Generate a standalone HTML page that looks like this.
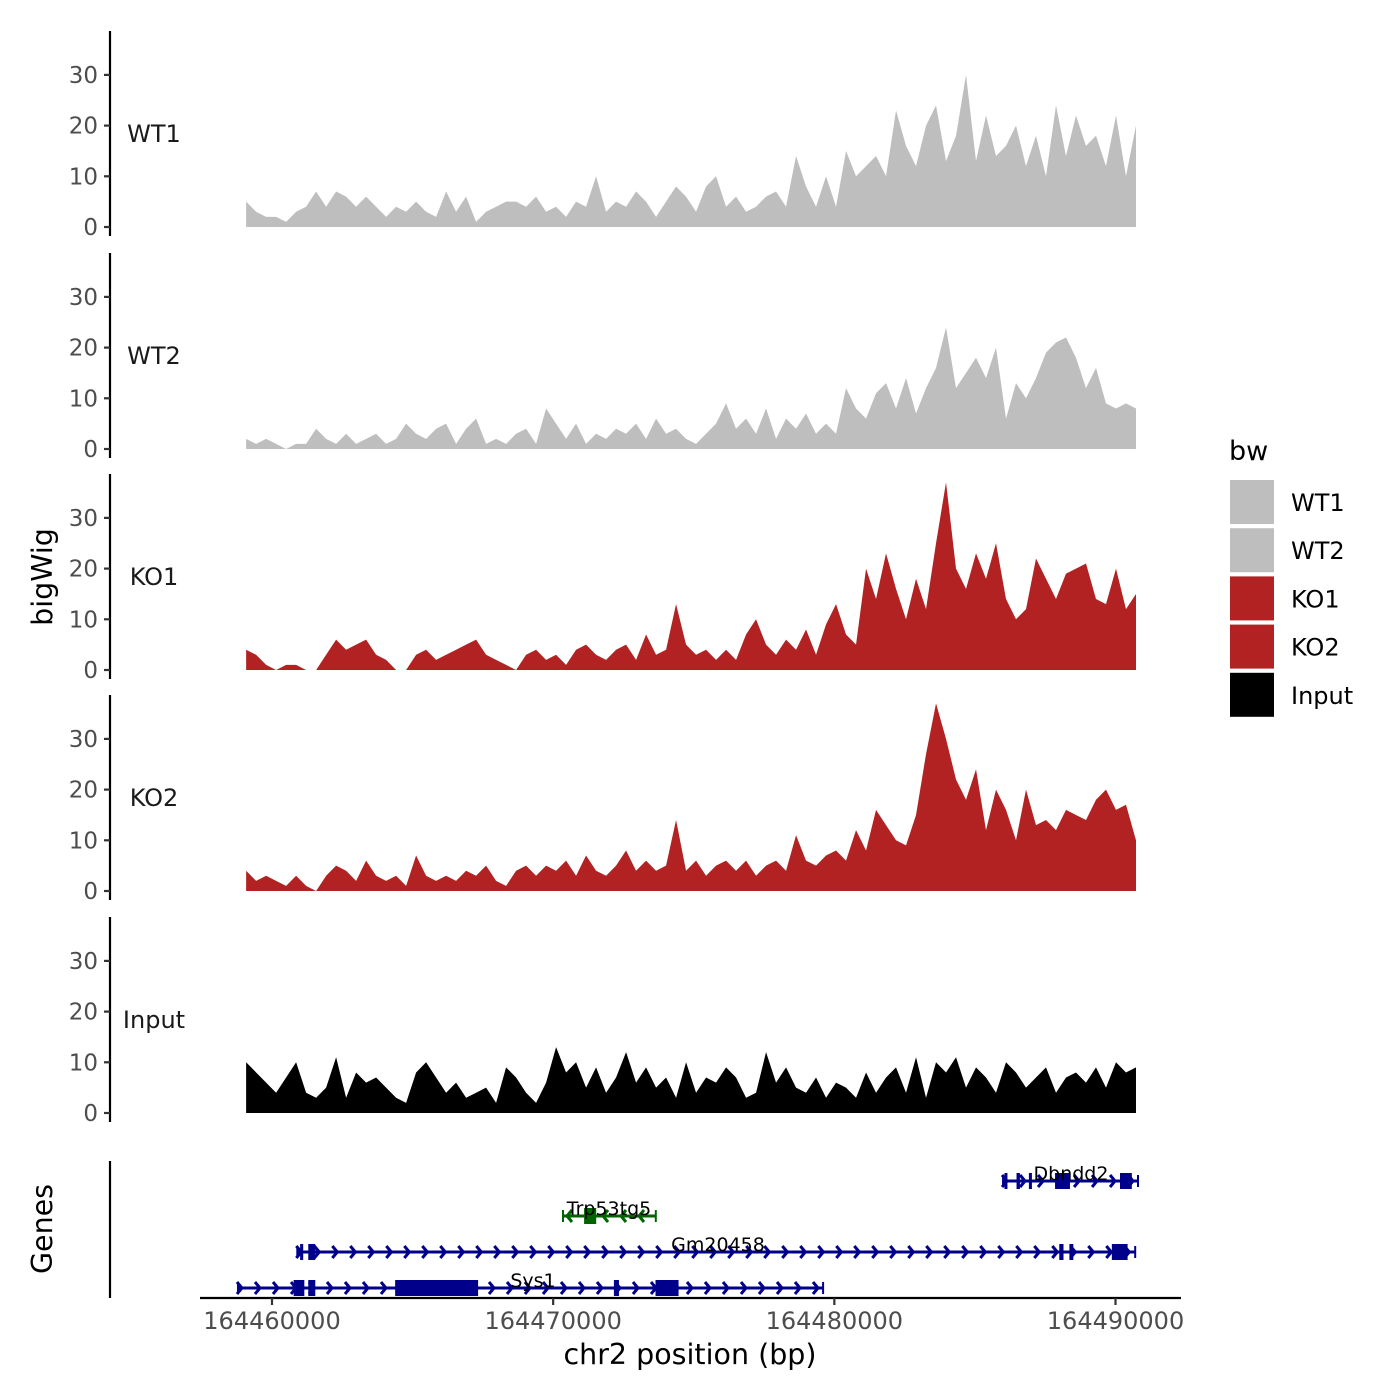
<!DOCTYPE html>
<html><head><meta charset="utf-8"><style>
body{margin:0;background:#fff}
svg{display:block;font-family:"DejaVu Sans","Liberation Sans",sans-serif}
</style></head><body>
<svg id="chart" width="1400" height="1400" viewBox="0 0 1400 1400" xmlns="http://www.w3.org/2000/svg">
<g id="tracks"></g>
<g id="genes"></g>
<g id="xaxis"></g>
<text x="690" y="1364" font-size="28.5" text-anchor="middle" fill="#000">chr2 position (bp)</text>
<text x="0" y="0" font-size="28.5" text-anchor="middle" transform="translate(52,577) rotate(-90)">bigWig</text>
<text x="0" y="0" font-size="28.5" text-anchor="middle" transform="translate(52,1229) rotate(-90)">Genes</text>
<g id="legend">
<text x="1229" y="460" font-size="27">bw</text>
</g>
</svg>
<script>
const trackNames = ["WT1","WT2","KO1","KO2","Input"];
const trackColors = ["#bebebe","#bebebe","#b22222","#b22222","#000000"];
const yTicks = [0,10,20,30];
const xTicks = [164460000,164470000,164480000,164490000];
const dataStart = 164459080, dataStep = 355.6;
const wt1 = [5,3,2,2,1,3,4,7,4,7,6,4,6,4,2,4,3,5,3,2,7,3,6,1,3,4,5,5,4,6,3,4,2,5,4,10,3,5,4,7,5,2,5,8,6,3,8,10,4,6,3,4,6,7,4,14,8,4,10,4,15,10,12,14,10,23,16,12,20,24,13,18,30,13,22,14,16,20,12,18,10,24,14,22,16,18,12,22,10,20];
const wt2 = [2,1,2,1,0,1,1,4,2,1,3,1,2,3,1,2,5,3,2,4,5,1,4,6,1,2,1,3,4,1,8,5,2,5,1,3,2,4,3,5,2,6,3,4,2,1,3,5,9,4,6,3,8,2,6,4,7,3,5,3,12,8,6,11,13,8,14,7,12,16,24,12,15,18,14,20,6,13,10,14,19,21,22,18,12,16,9,8,9,8];
const ko1 = [4,3,1,0,1,1,0,0,3,6,4,5,6,3,2,0,0,3,4,2,3,4,5,6,3,2,1,0,3,4,2,3,1,4,5,3,2,4,5,2,7,3,4,13,5,3,4,2,4,2,7,10,5,3,6,4,8,3,9,13,7,5,20,14,23,16,10,18,12,25,37,20,16,23,18,25,14,10,12,22,18,14,19,20,21,14,13,20,12,15];
const ko2 = [4,2,3,2,1,3,1,0,3,5,4,2,6,3,2,3,1,7,3,2,3,2,4,3,5,2,1,4,5,3,5,4,6,3,7,4,3,5,8,4,6,4,5,14,4,6,3,5,6,4,6,3,5,6,4,11,6,5,7,8,6,12,8,16,13,10,9,15,27,37,30,22,18,24,12,20,16,10,20,13,14,12,16,15,14,18,20,16,17,10];
const input = [10,8,6,4,7,10,4,3,5,11,3,8,6,7,5,3,2,8,10,7,4,6,3,4,5,2,9,7,4,2,6,13,8,10,5,9,4,7,12,6,9,5,7,3,10,4,7,6,9,7,3,4,12,6,9,5,4,7,3,6,5,3,8,4,7,9,4,11,3,10,8,11,5,9,7,4,10,8,5,7,9,4,7,8,6,9,5,10,8,9];
const seriesList = [wt1,wt2,ko1,ko2,input];
const geneNames = ["Sys1","Gm20458","Trp53tg5","Dbndd2"];
const geneStarts = [164458790,164460900,164470350,164486000];
const geneEnds = [164479600,164490700,164473650,164490800];
const geneStrand = [1,1,-1,1];
const geneExons = [
 [[164460770,164461150],[164461290,164461540],[164464380,164467330],[164472160,164472340],[164473640,164474460]],
 [[164461000,164461110],[164461290,164461540],[164488000,164488150],[164488360,164488500],[164489870,164490430]],
 [[164471100,164471530]],
 [[164486050,164486150],[164486480,164486600],[164486920,164487020],[164487850,164488380],[164490160,164490580]]
];
const NS="http://www.w3.org/2000/svg";
function mk(t,a,p){const e=document.createElementNS(NS,t);for(const k in a)e.setAttribute(k,a[k]);p.appendChild(e);return e;}
const xs = bp => 272 + (bp-164460000)*0.028117;
const zeros=[227,449,670,891,1113];
const ys=(v,i)=>zeros[i]-v*5.07;
const tracks=document.getElementById('tracks');
seriesList.forEach((s,i)=>{
  const g=mk('g',{},tracks);
  
  
  const ax=mk('line',{x1:110,x2:110,y1:zeros[i]-196,y2:zeros[i]+9,stroke:'#000','stroke-width':2.2},g);
  
  
  yTicks.forEach(t=>{
    mk('line',{x1:104,x2:110,y1:ys(t,i),y2:ys(t,i),stroke:'#333','stroke-width':2.2},g);
    const tx=mk('text',{x:98,y:ys(t,i)+8,'font-size':23,'text-anchor':'end',fill:'#4d4d4d'},g);
    tx.textContent=t;
    
    
  });
  const lb=mk('text',{x:154,y:zeros[i]-85,'font-size':24,'text-anchor':'middle',fill:'#1a1a1a'},g);
  lb.textContent=trackNames[i];
  
  
  let pts=[];
  const x0=xs(dataStart), xN=xs(dataStart+(s.length-1)*dataStep);
  pts.push(x0+','+zeros[i]);
  s.forEach((v,j)=>pts.push(xs(dataStart+j*dataStep)+','+ys(v,i)));
  pts.push(xN+','+zeros[i]);
  const p=mk('polygon',{points:pts.join(' '),fill:trackColors[i]},g);
  
  
});
const genes=document.getElementById('genes');
const ga=mk('line',{x1:110,x2:110,y1:1161,y2:1298,stroke:'#000','stroke-width':2.2},genes);


const rowY=[1288,1252,1216,1181];
const gColors=['#00008b','#00008b','#006400','#00008b'];
const labelX=[533,718,609,1071];
geneNames.forEach((n,i)=>{
  const g=mk('g',{},genes);
  
  
  const y=rowY[i],c=gColors[i],a=xs(geneStarts[i]),b=xs(geneEnds[i]);
  mk('line',{x1:a,x2:b,y1:y,y2:y,stroke:c,'stroke-width':3},g);
  for(let x=a+4;x<b-2;x+=18){
    const d=geneStrand[i]*5;
    mk('polyline',{points:`${x-d},${y-6} ${x},${y} ${x-d},${y+6}`,fill:'none',stroke:c,'stroke-width':3},g);
  }
  mk('line',{x1:a,x2:a,y1:y-6,y2:y+6,stroke:c,'stroke-width':2},g);
  mk('line',{x1:b,x2:b,y1:y-6,y2:y+6,stroke:c,'stroke-width':2},g);
  geneExons[i].forEach(e=>{
    const r=mk('rect',{x:xs(e[0]),y:y-8,width:Math.max(3,xs(e[1])-xs(e[0])),height:16,fill:c},g);
    
    
  });
  const t=mk('text',{x:labelX[i],y:y-1,'font-size':19,'text-anchor':'middle',fill:'#000'},g);
  t.textContent=n;
  
  
});
const xa=document.getElementById('xaxis');
mk('line',{x1:200,x2:1181,y1:1298,y2:1298,stroke:'#000','stroke-width':2.2},xa);
xTicks.forEach(t=>{
  const x=xs(t);
  mk('line',{x1:x,x2:x,y1:1298,y2:1305,stroke:'#333','stroke-width':2.2},xa);
  const tx=mk('text',{x:x,y:1329,'font-size':24,'text-anchor':'middle',fill:'#4d4d4d'},xa);
  tx.textContent=t;
  
  
});
const lg=document.getElementById('legend');
trackNames.forEach((n,i)=>{
  const y=480+i*48.2;
  const r=mk('rect',{x:1230,y:y,width:44,height:44,fill:trackColors[i]},lg);
  
  
  const t=mk('text',{x:1291,y:y+31,'font-size':24,fill:'#000'},lg);
  t.textContent=n;
  
  
});
</script>
</body></html>
